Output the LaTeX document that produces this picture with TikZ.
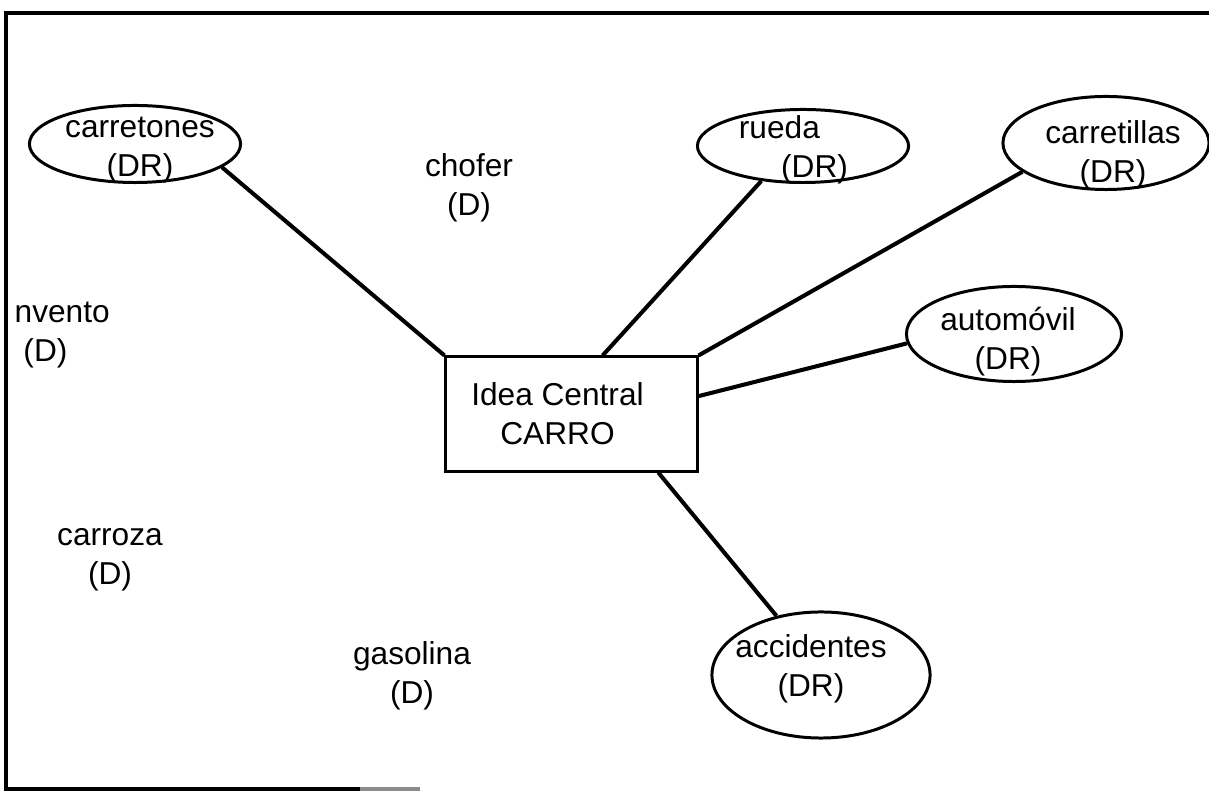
\documentclass[tikz,border=0pt]{standalone}
\usepackage{fontspec}
\setmainfont{Liberation Sans}
\usetikzlibrary{shapes.geometric}

\begin{document}
\begin{tikzpicture}[x=0.01cm,y=-0.01cm,
  every node/.style={font=\fontsize{9}{11}\selectfont},
  termino/.style={align=center,inner sep=0pt},
  ovalo/.style={ellipse,draw,line width=0.85pt,inner sep=0pt},
  enlace/.style={line width=1.15pt}]
\useasboundingbox (0,0) rectangle (1209,792);
\draw[line width=1pt] (1209,13) -- (6,13) -- (6,789) -- (360,789);
\draw[line width=1pt,black!45] (360,789) -- (420,789);

\node[draw,line width=0.85pt,minimum width=2.51cm,minimum height=1.14cm,
  label={[align=center,xshift=-0.14cm]center:Idea Central\\CARRO}] (idea) at (571.5,414) {};

\node[ovalo,minimum width=2.11cm,minimum height=0.77cm,
  label={[align=center,xshift=0.05cm,yshift=-0.06cm]center:carretones\\(DR)}] (carretones) at (135,144) {};
\node[ovalo,minimum width=2.11cm,minimum height=0.73cm,
  label={[align=center,xshift=-0.06cm,yshift=-0.04cm]center:rueda\hspace*{10pt}\\\hspace*{10pt}(DR)}] (rueda) at (803,146) {};
\node[ovalo,minimum width=2.06cm,minimum height=0.93cm,
  label={[align=center,xshift=0.07cm,yshift=-0.12cm]center:carretillas\\(DR)}] (carretillas) at (1106,143) {};
\node[ovalo,minimum width=2.15cm,minimum height=0.95cm,
  label={[align=center,xshift=-0.06cm,yshift=-0.075cm]center:automóvil\\(DR)}] (automovil) at (1014,334) {};
\node[ovalo,minimum width=2.18cm,minimum height=1.26cm,
  label={[align=center,xshift=-0.1cm,yshift=0.06cm]center:accidentes\\(DR)}] (accidentes) at (821,675) {};

\node[termino] (chofer) at (469,188) {chofer\\(D)};
\node[termino,align=left,anchor=west] (invento) at (14,335) {nvento\\\hspace*{2.5pt}(D)};
\node[termino] (carroza) at (110,560) {carroza\\(D)};
\node[termino] (gasolina) at (412,676) {gasolina\\(D)};

\draw[enlace] (carretones.-15) -- (idea.north west);
\draw[enlace] (rueda.-140) -- (idea.62);
\draw[enlace] (carretillas.-161) -- (idea.north east);
\draw[enlace] (automovil.-175) -- (idea.8);
\draw[enlace] (accidentes.127) -- (idea.-34);
\end{tikzpicture}
\end{document}
